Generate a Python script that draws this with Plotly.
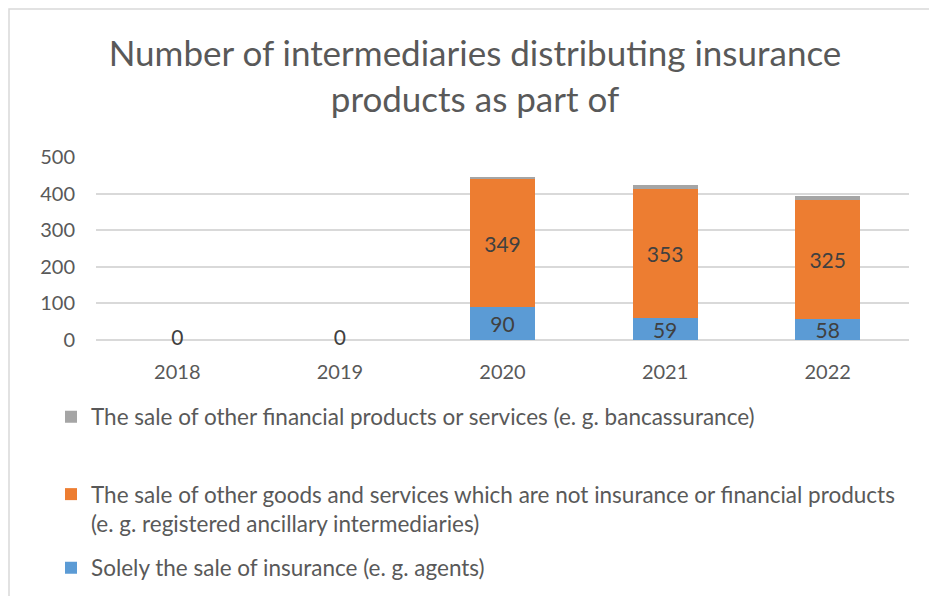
import plotly.graph_objects as go

years = ["2018", "2019", "2020", "2021", "2022"]
solely_insurance = [0, 0, 90, 59, 58]
other_goods = [0, 0, 349, 353, 325]
other_financial = [0, 0, 7, 11, 10]
zero_years = ["2018", "2019"]
zero_values = [0, 0]

name_blue = "Solely the sale of insurance (e. g. agents)"
name_orange = ("The sale of other goods and services which are not insurance or financial products"
               "<br>(e. g. registered ancillary intermediaries)")
name_gray = "The sale of other financial products or services (e. g. bancassurance)"

FONT = "Lato"
TXT = "#595959"
LBL = "#404040"

fig = go.Figure()

fig.add_trace(go.Bar(
    x=years, y=solely_insurance, name=name_blue,
    marker=dict(color="#5b9bd5", line=dict(width=0)),
    text=[str(v) if v else "" for v in solely_insurance],
    textposition="inside", insidetextanchor="middle",
    textangle=0, constraintext="none",
    textfont=dict(family=FONT, size=21, color=LBL),
    legend="legend3",
))
fig.add_trace(go.Bar(
    x=years, y=other_goods, name=name_orange,
    marker=dict(color="#ed7d31", line=dict(width=0)),
    text=[str(v) if v else "" for v in other_goods],
    textposition="inside", insidetextanchor="middle",
    textangle=0, constraintext="none",
    textfont=dict(family=FONT, size=21, color=LBL),
    legend="legend2",
))
fig.add_trace(go.Bar(
    x=years, y=other_financial, name=name_gray,
    marker=dict(color="#a5a5a5", line=dict(width=0)),
    legend="legend",
))
# zero labels for the empty years
fig.add_trace(go.Scatter(
    x=zero_years, y=zero_values, mode="text",
    text=[str(v) for v in zero_values], textposition="middle center",
    textfont=dict(family=FONT, size=21, color=LBL),
    cliponaxis=False, showlegend=False, hoverinfo="skip",
))

leg = dict(
    xref="container", yref="container", x=43 / 937, xanchor="left",
    yanchor="middle", bgcolor="rgba(0,0,0,0)",
    font=dict(family=FONT, size=22.5, color=TXT),
    itemwidth=30, valign="top",
)

fig.update_layout(
    width=937, height=596,
    margin=dict(l=88, r=36, t=149, b=264, autoexpand=False),
    paper_bgcolor="white", plot_bgcolor="white",
    barmode="stack", bargap=0.6,
    font=dict(family=FONT, size=20, color=TXT),
    title=dict(
        text="Number of intermediaries distributing insurance<br>products as part of",
        font=dict(family=FONT, size=35, color=TXT),
        x=467 / 937, xanchor="center", xref="container",
        y=1 - 58 / 596, yanchor="top", yref="container",
        automargin=False,
    ),
    xaxis=dict(
        showgrid=False, showline=False, zeroline=False,
        tickfont=dict(family=FONT, size=20, color=TXT),
        ticks="", ticklabelstandoff=18, tickangle=0,
    ),
    yaxis=dict(
        range=[0, 500], tickvals=[0, 100, 200, 300, 400, 500],
        showgrid=True, gridcolor="#d9d9d9", gridwidth=1.5,
        zeroline=True, zerolinecolor="#d9d9d9", zerolinewidth=1.5,
        showline=False, ticks="", ticklabelstandoff=20,
        tickfont=dict(family=FONT, size=20, color=TXT),
    ),
    legend=dict(leg, y=1 - 409 / 596),
    legend2=dict(leg, y=1 - 465 / 596, yanchor="top"),
    legend3=dict(leg, y=1 - 560 / 596),
    shapes=[dict(
        type="rect", xref="paper", yref="paper",
        x0=(1 - 88) / 813, x1=(960 - 88) / 813,
        y0=(332 - 620) / 183, y1=(332 - 1) / 183,
        line=dict(color="#d9d9d9", width=1.5), fillcolor="rgba(0,0,0,0)",
        layer="below",
    )],
)

fig.write_html("out.html")
